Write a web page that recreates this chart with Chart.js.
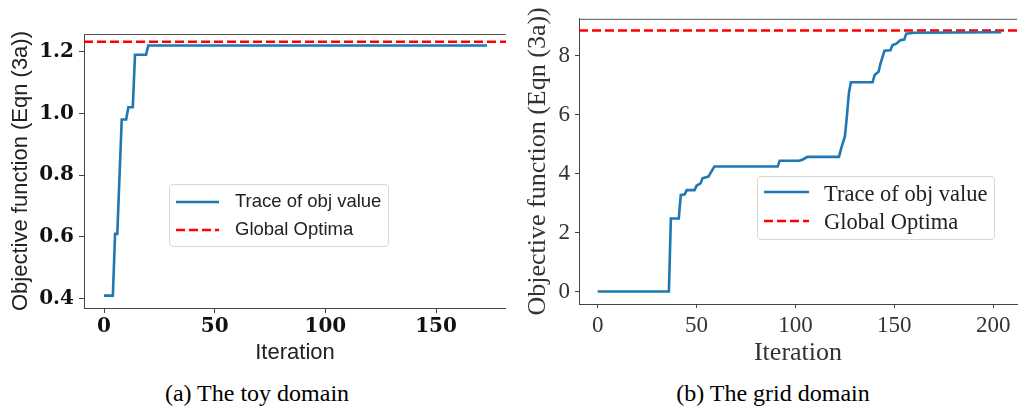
<!DOCTYPE html>
<html>
<head>
<meta charset="utf-8">
<script src="https://cdn.jsdelivr.net/npm/chart.js@4.4.1/dist/chart.umd.min.js"></script>
<style>
  html, body { margin: 0; padding: 0; background: #fff; }
  body { width: 1018px; height: 409px; position: relative; overflow: hidden; }
  canvas { position: absolute; top: 0; }
  #toyChart { left: 0; }
  #gridChart { left: 510px; }
  .legend {
    position: absolute; box-sizing: border-box;
    background: rgba(255, 255, 255, 0.8);
    border: 1px solid #d6d6d6; border-radius: 4px;
  }
  .legend svg { position: absolute; }
  .legend span { position: absolute; white-space: nowrap; line-height: 1; color: #222; }
  .caption {
    position: absolute; top: 381px; width: 320px; text-align: center;
    font-family: 'Liberation Serif', 'Times New Roman', serif; font-size: 24px; line-height: 1; color: #000;
  }
</style>
</head>
<body>
<canvas id="toyChart" width="506" height="370"></canvas>
<canvas id="gridChart" width="508" height="370"></canvas>
<div class="caption" style="left:97px">(a) The toy domain</div>
<div class="caption" style="left:613px">(b) The grid domain</div>

<script>
// toy domain: vertices of the trace (iteration, objective)
const toyIter = [0, 4, 5, 6, 8, 10, 11, 13, 14, 19, 20, 173];
const toyObj = [0.41, 0.41, 0.61, 0.61, 0.98, 0.98, 1.02, 1.02, 1.19, 1.19, 1.22, 1.22];
const toyOptimum = 1.232;
const toyXTicks = [0, 50, 100, 150];
const toyYTicks = [0.4, 0.6, 0.8, 1.0, 1.2];

// grid domain
const gridIter = [0, 36, 37, 41, 42, 44, 45, 49, 50, 52, 53, 56, 57, 59, 91, 92, 102, 104, 106, 122,
                  123, 125, 126, 127, 128, 139, 140, 142, 143, 145, 148, 149, 151, 153, 155, 156, 160, 204];
const gridObj = [0, 0, 2.48, 2.48, 3.27, 3.30, 3.44, 3.44, 3.59, 3.67, 3.84, 3.90, 4.02, 4.24, 4.24, 4.44, 4.44, 4.49, 4.57, 4.57,
                 4.83, 5.27, 5.95, 6.73, 7.10, 7.10, 7.35, 7.46, 7.74, 8.17, 8.19, 8.36, 8.41, 8.53, 8.55, 8.75, 8.78, 8.80];
const gridOptimum = 8.86;
const gridXTicks = [0, 50, 100, 150, 200];
const gridYTicks = [0, 2, 4, 6, 8];

const seriesNames = ['Trace of obj value', 'Global Optima'];
const yTitle = 'Objective function (Eqn (3a))';
const xTitle = 'Iteration';

const TRACE_COLOR = '#1f77b4';
const OPT_COLOR = '#ff0000';

// top spine (right spine is cropped off in the original figure)
const topSpine = {
    id: 'topSpine',
    afterDraw(chart) {
        const { ctx, chartArea: a } = chart;
        ctx.save();
        ctx.strokeStyle = '#555';
        ctx.lineWidth = 1;
        ctx.beginPath();
        ctx.moveTo(a.left, a.top + 0.5);
        ctx.lineTo(a.right, a.top + 0.5);
        ctx.stroke();
        ctx.restore();
    }
};

function buildChart(id, c) {
    const trace = c.iter.map((x, i) => ({ x: x, y: c.obj[i] }));
    const optima = [{ x: c.xMin, y: c.optimum }, { x: c.xMax, y: c.optimum }];

    return new Chart(document.getElementById(id), {
        type: 'line',
        data: {
            datasets: [
                { label: seriesNames[0], data: trace, borderColor: TRACE_COLOR, borderWidth: 2.6,
                  pointRadius: 0, tension: 0, fill: false },
                { label: seriesNames[1], data: optima, borderColor: OPT_COLOR, borderWidth: 2.6,
                  borderDash: [9, 4], pointRadius: 0, tension: 0, fill: false }
            ]
        },
        options: {
            responsive: false,
            animation: false,
            devicePixelRatio: 1,
            layout: { padding: { top: c.top, right: c.right, left: 0, bottom: 0 } },
            plugins: { legend: { display: false }, tooltip: { enabled: false } },
            scales: {
                x: {
                    type: 'linear', min: c.xMin, max: c.xMax,
                    afterBuildTicks: s => { s.ticks = c.xTicks.map(v => ({ value: v })); },
                    afterFit: s => { s.height = c.xAxisH; },
                    grid: { display: true, drawOnChartArea: false, drawTicks: true, tickLength: c.tickLen, color: '#444' },
                    border: { display: true, color: '#444', width: 1 },
                    ticks: { autoSkip: false, maxRotation: 0, padding: c.xTickPad, color: c.tickColor,
                             font: c.tickFont, callback: v => c.fmtX(v) },
                    title: { display: true, text: xTitle, color: c.titleColor, font: c.titleFont,
                             padding: { top: 0, bottom: c.xTitlePad } }
                },
                y: {
                    type: 'linear', min: c.yMin, max: c.yMax,
                    afterBuildTicks: s => { s.ticks = c.yTicks.map(v => ({ value: v })); },
                    afterFit: s => { s.width = c.yAxisW; },
                    grid: { display: true, drawOnChartArea: false, drawTicks: true, tickLength: c.tickLen, color: '#444' },
                    border: { display: true, color: '#444', width: 1 },
                    ticks: { autoSkip: false, padding: c.yTickPad, color: c.tickColor,
                             font: c.tickFont, callback: v => c.fmtY(v) },
                    title: { display: true, text: yTitle, color: c.titleColor, font: c.titleFont,
                             padding: { top: c.yTitlePad, bottom: 0 } }
                }
            }
        },
        plugins: [topSpine]
    });
}

function buildLegend(host, box) {
    const div = document.createElement('div');
    div.className = 'legend';
    div.style.left = box.left + 'px';
    div.style.top = box.top + 'px';
    div.style.width = box.width + 'px';
    div.style.height = box.height + 'px';
    const styles = [{ color: TRACE_COLOR, dash: '' }, { color: OPT_COLOR, dash: '9 4' }];
    seriesNames.forEach((name, i) => {
        const svg = document.createElementNS('http://www.w3.org/2000/svg', 'svg');
        svg.setAttribute('width', box.sampleW);
        svg.setAttribute('height', 8);
        svg.style.left = box.sampleX + 'px';
        svg.style.top = (box.lineY[i] - 4) + 'px';
        const ln = document.createElementNS('http://www.w3.org/2000/svg', 'line');
        ln.setAttribute('x1', 0); ln.setAttribute('x2', box.sampleW);
        ln.setAttribute('y1', 4); ln.setAttribute('y2', 4);
        ln.setAttribute('stroke', styles[i].color);
        ln.setAttribute('stroke-width', 2.6);
        if (styles[i].dash) ln.setAttribute('stroke-dasharray', styles[i].dash);
        svg.appendChild(ln);
        div.appendChild(svg);

        const sp = document.createElement('span');
        sp.textContent = name;
        sp.style.left = box.textX + 'px';
        sp.style.top = (box.textY[i] - box.fontSize / 2) + 'px';
        sp.style.fontSize = box.fontSize + 'px';
        sp.style.fontFamily = box.fontFamily;
        div.appendChild(sp);
    });
    host.appendChild(div);
}

buildChart('toyChart', {
    iter: toyIter, obj: toyObj, optimum: toyOptimum,
    xTicks: toyXTicks, yTicks: toyYTicks,
    xMin: -9.04, xMax: 181.6, yMin: 0.37, yMax: 1.257,
    top: 34, right: 0, yAxisW: 84, xAxisH: 62,
    tickLen: 5, xTickPad: 2, yTickPad: 5, xTitlePad: 4, yTitlePad: 8,
    tickColor: '#111',
    tickFont: { family: "'DejaVu Serif', serif", size: 20, weight: 'bold' },
    titleColor: '#222',
    titleFont: { family: "'Liberation Sans', Arial, sans-serif", size: 22 },
    fmtX: v => String(v), fmtY: v => v.toFixed(1)
});

buildChart('gridChart', {
    iter: gridIter, obj: gridObj, optimum: gridOptimum,
    xTicks: gridXTicks, yTicks: gridYTicks,
    xMin: -9.45, xMax: 212, yMin: -0.424, yMax: 9.255,
    top: 17, right: 1, yAxisW: 69, xAxisH: 66,
    tickLen: 4, xTickPad: 4, yTickPad: 5, xTitlePad: 1, yTitlePad: 13,
    tickColor: '#333',
    tickFont: { family: "'Liberation Serif', 'Times New Roman', serif", size: 23 },
    titleColor: '#333',
    titleFont: { family: "'Liberation Serif', 'Times New Roman', serif", size: 26 },
    fmtX: v => String(v), fmtY: v => String(v)
});

buildLegend(document.body, {
    left: 169, top: 184, width: 220, height: 63,
    sampleX: 6, sampleW: 43, lineY: [17, 45],
    textX: 65, textY: [16, 44.3], fontSize: 18.5,
    fontFamily: "'Liberation Sans', Arial, sans-serif"
});

buildLegend(document.body, {
    left: 757, top: 176, width: 238, height: 64,
    sampleX: 6, sampleW: 45, lineY: [14.7, 44],
    textX: 66, textY: [17, 45.7], fontSize: 22.5,
    fontFamily: "'Liberation Serif', 'Times New Roman', serif"
});
</script>
</body>
</html>
